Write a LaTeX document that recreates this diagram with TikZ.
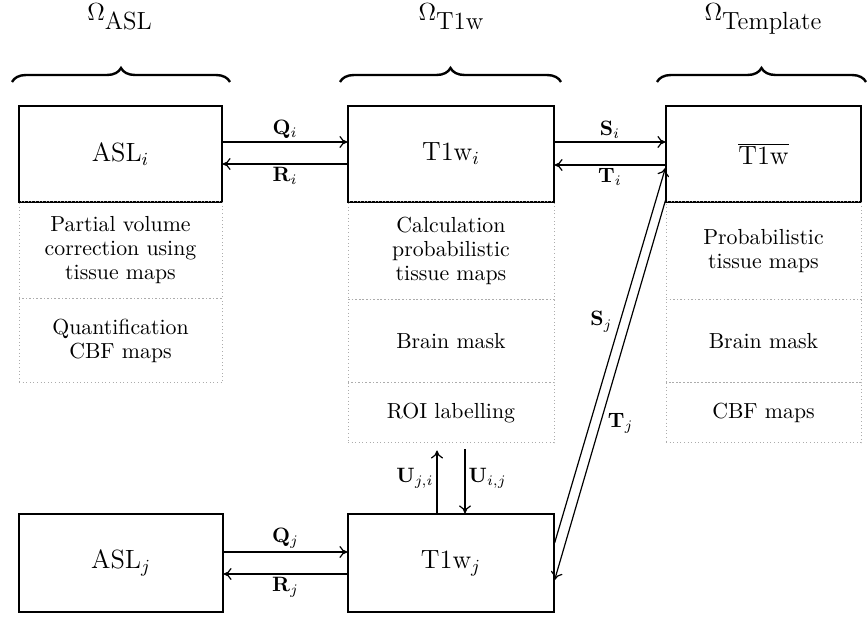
\RequirePackage{fix-cm}
\documentclass[tikz,border=0pt]{standalone}
\usetikzlibrary{arrows.meta,decorations.pathreplacing}
\begin{document}
\begin{tikzpicture}[x=0.5pt,y=-0.5pt,
  box/.style={draw, line width=0.6pt, inner sep=0pt, font=\fontsize{13.2}{15}\selectfont},
  sect/.style={draw=gray!65, line width=0.5pt, dash pattern=on 0.5pt off 1.3pt, inner sep=0pt, align=center, font=\fontsize{10.9}{12}\selectfont},
  arr/.style={line width=0.6pt, -{To[length=4pt,width=6pt]}},
  lab/.style={font=\fontsize{10.4}{12}\selectfont, inner sep=1.5pt},
  brc/.style={line width=1.2pt, decorate, decoration={brace, amplitude=7pt}},
  omg/.style={font=\fontsize{12.4}{14}\selectfont, anchor=base}
]
\useasboundingbox (0,0) rectangle (867,619);

% header labels
\node[omg] (oasl) at (119.5,21) {$\Omega$\raisebox{-4.5pt}{ASL}};
\node[omg] (ot1w) at (451,21) {$\Omega$\raisebox{-4.5pt}{T1w}};
\node[omg] (otmp) at (763,21) {$\Omega$\raisebox{-4.5pt}{Template}};

% braces
\coordinate (b1l) at (12,82);  \coordinate (b1r) at (230,82);
\coordinate (b2l) at (340,82); \coordinate (b2r) at (561,82);
\coordinate (b3l) at (657,82); \coordinate (b3r) at (866,82);
\draw[brc] (b1l) -- (b1r);
\draw[brc] (b2l) -- (b2r);
\draw[brc] (b3l) -- (b3r);

% main boxes
\node[box, minimum width=101.5pt, minimum height=48pt] (ASLi) at (120.5,154) {ASL$_i$};
\node[box, minimum width=103pt, minimum height=48pt] (T1wi) at (451,154) {T1w$_i$};
\node[box, minimum width=97.5pt, minimum height=48pt] (Tmpl) at (763.5,154) {$\overline{\mbox{T1w}}$};
\node[box, minimum width=102pt, minimum height=49pt] (ASLj) at (121,563) {ASL$_j$};
\node[box, minimum width=103pt, minimum height=49pt] (T1wj) at (451,563) {T1w$_j$};

% dotted sections
\node[sect, minimum width=101.5pt, minimum height=48.5pt] (a1) at (120.5,250.5) {Partial volume\\correction using\\tissue maps};
\node[sect, minimum width=101.5pt, minimum height=42pt] (a2) at (120.5,341) {Quantification\\CBF maps};

\node[sect, minimum width=103pt, minimum height=49pt] (m1) at (451,251) {Calculation\\probabilistic\\tissue maps};
\node[sect, minimum width=103pt, minimum height=41.5pt] (m2) at (451,341.5) {Brain mask};
\node[sect, minimum width=103pt, minimum height=30pt] (roi) at (451,413) {ROI labelling};

\node[sect, minimum width=97.5pt, minimum height=49pt] (t1) at (763.5,251) {Probabilistic\\tissue maps};
\node[sect, minimum width=97.5pt, minimum height=41.5pt] (t2) at (763.5,341.5) {Brain mask};
\node[sect, minimum width=97.5pt, minimum height=30pt] (t3) at (763.5,413) {CBF maps};

% horizontal arrows top
\draw[arr] ([yshift=6pt]ASLi.east) -- node[lab, above] {$\mathbf{Q}_i$} ([yshift=6pt]T1wi.west);
\draw[arr] ([yshift=-5pt]T1wi.west) -- node[lab, below] {$\mathbf{R}_i$} ([yshift=-5pt]ASLi.east);
\draw[arr] ([yshift=6pt]T1wi.east) -- node[lab, above] {$\mathbf{S}_i$} ([yshift=6pt]Tmpl.west);
\draw[arr] ([yshift=-5.5pt]Tmpl.west) -- node[lab, below] {$\mathbf{T}_i$} ([yshift=-5.5pt]T1wi.east);

% horizontal arrows bottom
\draw[arr] ([yshift=5.5pt]ASLj.east) -- node[lab, above] {$\mathbf{Q}_j$} ([yshift=5.5pt]T1wj.west);
\draw[arr] ([yshift=-5.5pt]T1wj.west) -- node[lab, below] {$\mathbf{R}_j$} ([yshift=-5.5pt]ASLj.east);

% vertical arrows
\draw[arr, shorten >=3.5pt] ([xshift=-7pt]T1wj.north) -- node[lab, left] {$\mathbf{U}_{j,i}$} ([xshift=-7pt]roi.south);
\draw[arr, shorten <=3pt] ([xshift=7pt]roi.south) -- node[lab, right] {$\mathbf{U}_{i,j}$} ([xshift=7pt]T1wj.north);

% diagonal arrows
\draw[arr] ([yshift=10pt]T1wj.east) -- node[lab, pos=0.59, left=2pt] {$\mathbf{S}_j$} ([yshift=-7pt]Tmpl.west);
\draw[arr] ([yshift=1pt]Tmpl.south west) -- node[lab, pos=0.587, right=2pt] {$\mathbf{T}_j$} ([yshift=-8.5pt]T1wj.east);
\end{tikzpicture}
\end{document}
